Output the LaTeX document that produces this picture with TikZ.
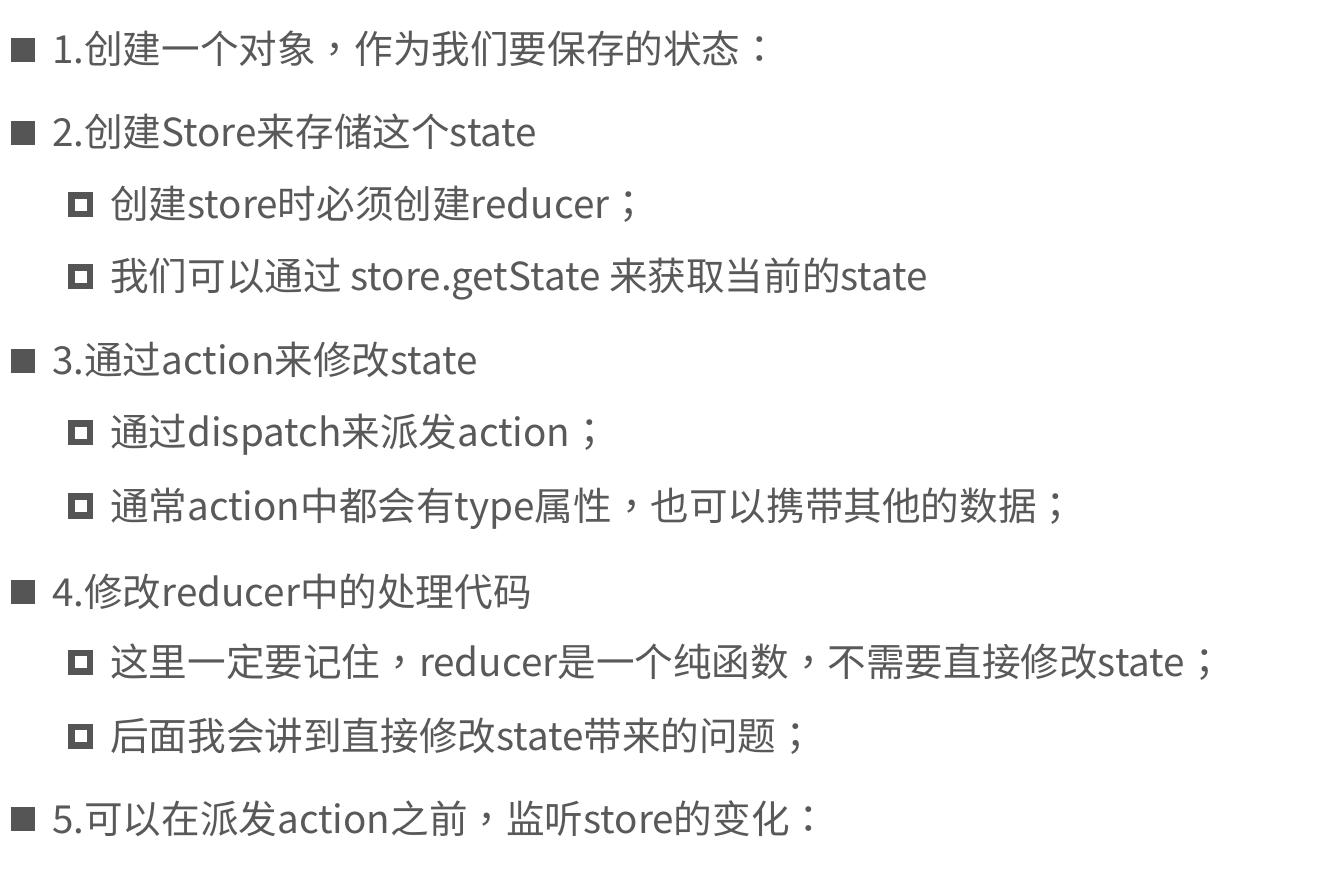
\documentclass[tikz,border=0pt]{standalone}
\usepackage{fontspec}
\setmainfont{Noto Sans CJK SC}
\newfontfamily\tcfont{Noto Sans CJK TC}
\newcommand{\cp}[1]{{\tcfont #1}}
\definecolor{txt}{HTML}{595959}
\definecolor{mark}{HTML}{555555}
\begin{document}
\begin{tikzpicture}[x=1pt,y=-1pt,
  lvla/.style={anchor=base west,inner sep=0pt,text=txt,font=\fontsize{38.6}{42}\selectfont},
  lvlb/.style={anchor=base west,inner sep=0pt,text=txt,font=\fontsize{38.6}{42}\selectfont},
  fullbox/.style={fill=mark,draw=none,minimum width=24pt,minimum height=24pt,inner sep=0pt},
  openbox/.style={fill=mark,draw=none,minimum width=25pt,minimum height=25pt,inner sep=0pt,
    path picture={\fill[white] ([shift={(-6pt,-6pt)}]path picture bounding box.center) rectangle ([shift={(6pt,6pt)}]path picture bounding box.center);}}]
\useasboundingbox (0,0) rectangle (1326,890);
\fill[white] (0,0) rectangle (1326,890);
\node[fullbox] (b1) at (23,50) {};
\node[lvla] (t1) at (52,64) {1.创建一个对象\cp{，}作为我们要保存的状态\cp{：}};
\node[fullbox] (b2) at (23,133) {};
\node[lvla] (t2) at (52,147) {2.创建Store来存储这个state};
\node[openbox] (b21) at (80.5,205) {};
\node[lvlb] (t21) at (110,219) {创建store时必须创建reducer\cp{；}};
\node[openbox] (b22) at (80.5,277) {};
\node[lvlb] (t22) at (110,291) {我们可以通过 store.getState 来获取当前的state};
\node[fullbox] (b3) at (23,361) {};
\node[lvla] (t3) at (52,375) {3.通过action来修改state};
\node[openbox] (b31) at (80.5,433) {};
\node[lvlb] (t31) at (110,447) {通过dispatch来派发action\cp{；}};
\node[openbox] (b32) at (80.5,506) {};
\node[lvlb] (t32) at (110,520) {通常action中都会有type属性\cp{，}也可以携带其他的数据\cp{；}};
\node[fullbox] (b4) at (23,592) {};
\node[lvla] (t4) at (52,606) {4.修改reducer中的处理代码};
\node[openbox] (b41) at (80.5,662) {};
\node[lvlb] (t41) at (110,676) {这里一定要记住\cp{，}reducer是一个纯函数\cp{，}不需要直接修改state\cp{；}};
\node[openbox] (b42) at (80.5,736) {};
\node[lvlb] (t42) at (110,750) {后面我会讲到直接修改state带来的问题\cp{；}};
\node[fullbox] (b5) at (23,819) {};
\node[lvla] (t5) at (52,833) {5.可以在派发action之前\cp{，}监听store的变化\cp{：}};
\end{tikzpicture}
\end{document}
